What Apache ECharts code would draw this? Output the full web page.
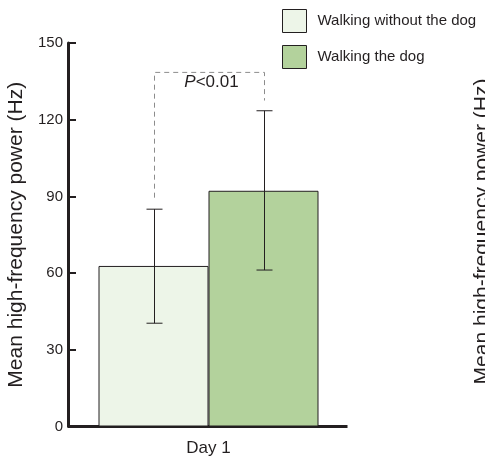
<!DOCTYPE html>
<html>
<head>
<meta charset="utf-8">
<script src="https://cdn.jsdelivr.net/npm/echarts@6/dist/echarts.min.js"></script>
<style>
  html, body { margin: 0; padding: 0; background: #fff; }
  #chart { width: 485px; height: 459px; }
</style>
</head>
<body>
<div id="chart"></div>
<script>
const categories = ['Day 1'];
const seriesNames = ['Walking without the dog', 'Walking the dog'];
const withoutDog = [62.8];
const withDog = [92.2];
// error bars, [low, high]
const withoutDogErr = [[40.4, 85.0]];
const withDogErr = [[61.2, 123.5]];
// significance bracket: [left end, top, right end]
const bracket = [[89.5, 138.5, 127.5]];
const bracketLabel = ['P<0.01'];
const bracketLabelValue = [134.5];
const yName = 'Mean high-frequency power (Hz)';

const ink = '#231f20';
const font = '"Liberation Sans", Arial, Helvetica, sans-serif';

// bars sit at +-20% of the band (barCategoryGap 20%, barGap 0)
function errorBars(side) {
  return function (params, api) {
    const band = api.size([1, 0])[0];
    const lo = api.coord([api.value(0), api.value(1)]);
    const hi = api.coord([api.value(0), api.value(2)]);
    const x = Math.round(lo[0] + side * band * 0.2) + 0.5;
    const cap = 8;
    const style = { stroke: ink, lineWidth: 1 };
    return {
      type: 'group',
      children: [
        { type: 'line', shape: { x1: x, y1: hi[1], x2: x, y2: lo[1] }, style: style },
        { type: 'line', shape: { x1: x - cap, y1: hi[1], x2: x + cap, y2: hi[1] }, style: style },
        { type: 'line', shape: { x1: x - cap, y1: lo[1], x2: x + cap, y2: lo[1] }, style: style }
      ]
    };
  };
}

function bracketItem(params, api) {
  const band = api.size([1, 0])[0];
  const c = api.value(0);
  const left = api.coord([c, api.value(1)]);
  const top = api.coord([c, api.value(2)]);
  const right = api.coord([c, api.value(3)]);
  const xl = Math.round(left[0] - band * 0.2) + 0.5, xr = Math.round(left[0] + band * 0.2) + 0.5;
  const txt = api.coord([c, api.value(4)]);
  return {
    type: 'group',
    children: [
      {
        type: 'polyline',
        shape: { points: [[xl, left[1]], [xl, top[1]], [xr, top[1]], [xr, right[1]]] },
        style: { stroke: '#8c8c8c', lineWidth: 1, lineDash: [5, 4], fill: null }
      },
      {
        type: 'text',
        x: txt[0] + 3,
        y: txt[1],
        style: {
          text: '{i|P}<0.01',
          rich: { i: { fontStyle: 'italic', fontSize: 17, fontFamily: font, fill: ink } },
          fontSize: 17,
          fontFamily: font,
          fill: ink,
          align: 'center',
          verticalAlign: 'middle'
        }
      }
    ]
  };
}

const chart = echarts.init(document.getElementById('chart'));
chart.setOption({
  animation: false,
  textStyle: { fontFamily: font },
  grid: { left: 71, width: 275, top: 43, bottom: 32.5, outerBoundsMode: 'none', containLabel: false },
  legend: {
    data: seriesNames,
    orient: 'vertical',
    left: 282,
    top: 9,
    padding: 0,
    itemWidth: 24,
    itemHeight: 23,
    itemGap: 12,
    icon: 'rect',
    itemStyle: { borderColor: ink, borderWidth: 1 },
    textStyle: { fontSize: 15, color: ink, padding: [0, 0, 0, 6] }
  },
  xAxis: {
    type: 'category',
    data: categories,
    axisLine: { lineStyle: { color: ink, width: 3, cap: 'square' } },
    axisTick: { show: false },
    axisLabel: { fontSize: 17, color: ink, margin: 13 }
  },
  yAxis: {
    type: 'value',
    min: 0,
    max: 150,
    interval: 30,
    offset: 3,
    name: yName,
    nameLocation: 'middle',
    nameGap: 35,
    nameTextStyle: { fontSize: 21, color: ink },
    axisLine: { show: true, lineStyle: { color: ink, width: 3 } },
    axisTick: { show: true, inside: true, length: 8, lineStyle: { color: ink, width: 2 } },
    axisLabel: { fontSize: 15, color: ink, margin: 5 },
    splitLine: { show: false }
  },
  series: [
    {
      name: seriesNames[0],
      type: 'bar',
      data: withoutDog,
      barGap: '0%',
      barCategoryGap: '20%',
      itemStyle: { color: '#edf5e8', borderColor: ink, borderWidth: 1 }
    },
    {
      name: seriesNames[1],
      type: 'bar',
      data: withDog,
      itemStyle: { color: '#b3d29c', borderColor: ink, borderWidth: 1 }
    },
    {
      type: 'custom',
      renderItem: errorBars(-1),
      data: withoutDogErr.map((e, i) => [i, e[0], e[1]]),
      z: 5
    },
    {
      type: 'custom',
      renderItem: errorBars(1),
      data: withDogErr.map((e, i) => [i, e[0], e[1]]),
      z: 5
    },
    {
      type: 'custom',
      renderItem: bracketItem,
      data: bracket.map((b, i) => [i, b[0], b[1], b[2], bracketLabelValue[i]]),
      z: 5
    }
  ],
  graphic: [
    {
      type: 'text',
      x: 482,
      y: 231.5,
      rotation: Math.PI / 2,
      style: {
        text: yName,
        fontSize: 21,
        fontFamily: font,
        fill: ink,
        align: 'center',
        verticalAlign: 'middle'
      }
    }
  ]
});
</script>
</body>
</html>
